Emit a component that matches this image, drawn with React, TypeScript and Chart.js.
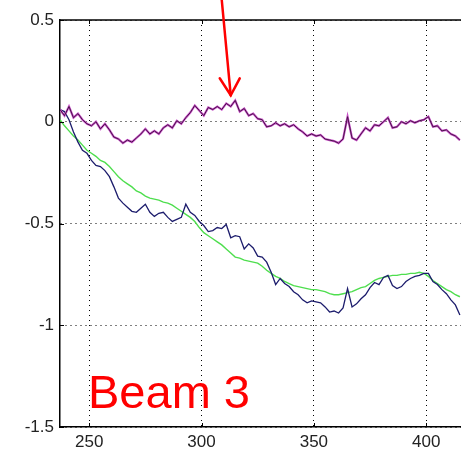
import React, { useEffect, useRef } from "react";
import { Chart, registerables } from "chart.js";

Chart.register(...registerables);

const xValues = [
  237, 239, 241, 243, 245, 247, 249, 251, 253, 255,
  257, 259, 261, 263, 265, 267, 269, 271, 273, 275,
  277, 279, 281, 283, 285, 287, 289, 291, 293, 295,
  297, 299, 301, 303, 305, 307, 309, 311, 313, 315,
  317, 319, 321, 323, 325, 327, 329, 331, 333, 335,
  337, 339, 341, 343, 345, 347, 349, 351, 353, 355,
  357, 359, 361, 363, 365, 367, 369, 371, 373, 375,
  377, 379, 381, 383, 385, 387, 389, 391, 393, 395,
  397, 399, 401, 403, 405, 407, 409, 411, 413, 415,
];

const magentaValues = [
  0.06, 0.03, 0.075, 0.02, 0.04, 0.01, -0.01, -0.02, 0.0, -0.035,
  -0.01, -0.04, -0.075, -0.085, -0.105, -0.09, -0.1, -0.08, -0.06, -0.035,
  -0.06, -0.045, -0.06, -0.03, -0.015, -0.03, 0.005, -0.01, 0.02, 0.045,
  0.08, 0.055, 0.03, 0.07, 0.06, 0.075, 0.06, 0.09, 0.075, 0.105,
  0.05, 0.065, 0.03, 0.04, 0.015, 0.01, -0.025, -0.02, -0.005, -0.02,
  -0.01, -0.025, -0.015, -0.035, -0.05, -0.07, -0.06, -0.07, -0.065, -0.085,
  -0.09, -0.095, -0.105, -0.085, 0.025, -0.08, -0.09, -0.06, -0.03, -0.045,
  -0.015, -0.02, 0.0, 0.02, -0.03, -0.025, 0.0, -0.01, 0.005, -0.005,
  0.005, 0.01, 0.025, -0.025, -0.02, -0.045, -0.04, -0.06, -0.07, -0.09,
];

const navyValues = [
  0.06, 0.05, 0.01, -0.05, -0.1, -0.14, -0.155, -0.19, -0.215, -0.22,
  -0.24, -0.27, -0.32, -0.375, -0.4, -0.42, -0.44, -0.445, -0.425, -0.405,
  -0.445, -0.465, -0.45, -0.445, -0.47, -0.49, -0.48, -0.47, -0.405, -0.445,
  -0.46, -0.49, -0.51, -0.54, -0.535, -0.52, -0.525, -0.505, -0.57, -0.56,
  -0.565, -0.625, -0.6, -0.62, -0.66, -0.665, -0.69, -0.74, -0.8, -0.77,
  -0.795, -0.81, -0.835, -0.85, -0.875, -0.89, -0.88, -0.885, -0.89, -0.91,
  -0.935, -0.93, -0.94, -0.915, -0.82, -0.91, -0.895, -0.87, -0.85, -0.815,
  -0.79, -0.8, -0.765, -0.755, -0.805, -0.82, -0.81, -0.785, -0.77, -0.76,
  -0.755, -0.745, -0.745, -0.785, -0.8, -0.825, -0.845, -0.875, -0.9, -0.95,
];

const greenValues = [
  0.01, -0.02, -0.045, -0.07, -0.09, -0.115, -0.14, -0.155, -0.17, -0.19,
  -0.2, -0.22, -0.245, -0.27, -0.29, -0.305, -0.32, -0.34, -0.35, -0.365,
  -0.375, -0.38, -0.385, -0.395, -0.4, -0.41, -0.425, -0.44, -0.455, -0.47,
  -0.49, -0.52, -0.545, -0.56, -0.575, -0.59, -0.605, -0.625, -0.645, -0.665,
  -0.67, -0.68, -0.685, -0.69, -0.695, -0.71, -0.73, -0.745, -0.76, -0.77,
  -0.785, -0.795, -0.805, -0.81, -0.815, -0.82, -0.825, -0.825, -0.83, -0.835,
  -0.845, -0.85, -0.85, -0.845, -0.84, -0.835, -0.825, -0.815, -0.81, -0.795,
  -0.78, -0.77, -0.765, -0.76, -0.755, -0.755, -0.75, -0.75, -0.745, -0.745,
  -0.74, -0.745, -0.76, -0.78, -0.795, -0.81, -0.825, -0.835, -0.85, -0.86,
];

const xTickValues = [250, 300, 350, 400];
const yTickValues = [0.5, 0, -0.5, -1, -1.5];
const xMin = 237;
const xMax = 415.5;
const yMin = -1.5;
const yMax = 0.5;
const beamLabel = "Beam 3";
const arrowTip = { x: 313, y: 0.13 };
const arrowTailX = 309;

export default function App() {
  const canvasRef = useRef<HTMLCanvasElement | null>(null);

  useEffect(() => {
    const canvas = canvasRef.current;
    if (!canvas) return;
    const toPts = (ys: number[]) => xValues.map((x, i) => ({ x, y: ys[i] }));

    const framePlugin = {
      id: "frame",
      afterDatasetsDraw(chart: any) {
        const { ctx, chartArea: a, scales } = chart;
        ctx.save();
        ctx.strokeStyle = "#000";
        ctx.lineWidth = 1.5;
        ctx.beginPath();
        ctx.moveTo(a.left, a.top);
        ctx.lineTo(a.right, a.top);
        ctx.stroke();
        ctx.lineWidth = 1;
        xTickValues.forEach((v) => {
          const px = Math.round(scales.x.getPixelForValue(v)) + 0.5;
          ctx.beginPath();
          ctx.moveTo(px, a.top);
          ctx.lineTo(px, a.top + 4);
          ctx.moveTo(px, a.bottom);
          ctx.lineTo(px, a.bottom - 4);
          ctx.stroke();
        });
        yTickValues.forEach((v) => {
          const py = Math.round(scales.y.getPixelForValue(v)) + 0.5;
          ctx.beginPath();
          ctx.moveTo(a.left, py);
          ctx.lineTo(a.left + 4, py);
          ctx.stroke();
        });
        // red arrow annotation
        const tx = scales.x.getPixelForValue(arrowTip.x);
        const ty = scales.y.getPixelForValue(arrowTip.y);
        const sx = scales.x.getPixelForValue(arrowTailX);
        ctx.strokeStyle = "#ff0000";
        ctx.lineWidth = 2.5;
        ctx.lineCap = "round";
        ctx.beginPath();
        ctx.moveTo(sx, 0);
        ctx.lineTo(tx, ty);
        ctx.stroke();
        ctx.beginPath();
        ctx.moveTo(tx - 11, ty - 17);
        ctx.lineTo(tx, ty);
        ctx.lineTo(tx + 9, ty - 17);
        ctx.stroke();
        ctx.restore();
      },
    };

    const chart = new Chart(canvas, {
      type: "line",
      data: {
        datasets: [
          {
            label: "magenta-dark",
            data: toPts(magentaValues),
            borderColor: "#4a154a",
            borderWidth: 1,
            pointRadius: 0,
            tension: 0,
          },
          {
            label: "magenta",
            data: toPts(magentaValues),
            borderColor: "#c850c8",
            borderWidth: 2.2,
            pointRadius: 0,
            tension: 0,
          },
          {
            label: "navy",
            data: toPts(navyValues),
            borderColor: "#1c1c6c",
            borderWidth: 1.3,
            pointRadius: 0,
            tension: 0,
          },
          {
            label: "green",
            data: toPts(greenValues),
            borderColor: "#4ede4e",
            borderWidth: 1.4,
            pointRadius: 0,
            tension: 0,
          },
        ],
      },
      options: {
        responsive: false,
        animation: false,
        layout: { padding: { top: 20, left: 0, right: 0, bottom: 0 } },
        plugins: { legend: { display: false }, tooltip: { enabled: false } },
        scales: {
          x: {
            type: "linear",
            min: xMin,
            max: xMax,
            afterBuildTicks: (scale: any) => {
              scale.ticks = xTickValues.map((v) => ({ value: v }));
            },
            afterFit: (scale: any) => {
              scale.height = 23;
            },
            grid: { color: "#000", lineWidth: 1, drawTicks: false },
            border: { display: true, color: "#000", width: 1.5, dash: [1, 4] },
            ticks: {
              padding: 5,
              color: "#222",
              font: { family: "Liberation Sans", size: 17 },
              callback: (v: any) => String(v),
            },
          },
          y: {
            type: "linear",
            min: yMin,
            max: yMax,
            afterBuildTicks: (scale: any) => {
              scale.ticks = yTickValues.map((v) => ({ value: v }));
            },
            afterFit: (scale: any) => {
              scale.width = 60;
            },
            grid: { color: "#000", lineWidth: 1, drawTicks: false },
            border: { display: true, color: "#000", width: 1.5, dash: [1, 4] },
            ticks: {
              padding: 6,
              color: "#222",
              font: { family: "Liberation Sans", size: 17 },
              callback: (v: any) => String(v),
            },
          },
        },
      },
      plugins: [framePlugin],
    });
    return () => chart.destroy();
  }, []);

  return (
    <div style={{ position: "absolute", left: 0, top: 0, width: 461, height: 450, background: "#fff", overflow: "hidden" }}>
      <canvas ref={canvasRef} width={461} height={450} style={{ display: "block" }} />
      <div
        style={{
          position: "absolute",
          left: 88,
          top: 368,
          fontFamily: "Liberation Sans",
          fontSize: 47,
          lineHeight: 1,
          color: "#ff0000",
          whiteSpace: "nowrap",
        }}
      >
        {beamLabel}
      </div>
    </div>
  );
}
